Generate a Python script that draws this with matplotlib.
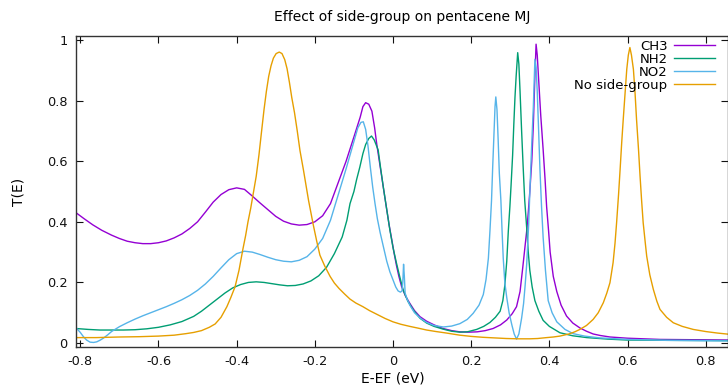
import matplotlib
matplotlib.use("Agg")
import matplotlib.pyplot as plt

plt.rcParams['font.family'] = ['DejaVu Sans']

# ---- data ----
ch3_x = [-0.811, -0.79, -0.768, -0.745, -0.72, -0.70, -0.68, -0.66, -0.64, -0.62, -0.60,
         -0.58, -0.56, -0.54, -0.52, -0.50, -0.48, -0.46, -0.44, -0.42, -0.40, -0.38,
         -0.36, -0.34, -0.32, -0.30, -0.28, -0.26, -0.24, -0.22, -0.20, -0.18, -0.16,
         -0.14, -0.12, -0.10, -0.084, -0.077, -0.07, -0.062, -0.054, -0.047, -0.042,
         -0.035, -0.029, -0.022, -0.016, -0.01, -0.003, 0.003, 0.009, 0.015, 0.022,
         0.032, 0.043, 0.055, 0.069, 0.086, 0.105, 0.128, 0.15, 0.171, 0.195, 0.215,
         0.236, 0.256, 0.275, 0.291, 0.305, 0.316, 0.325, 0.332, 0.337, 0.342, 0.346,
         0.350, 0.355, 0.359, 0.363, 0.366, 0.369, 0.373, 0.378, 0.384, 0.389, 0.393,
         0.398, 0.402, 0.41, 0.419, 0.43, 0.444, 0.46, 0.478, 0.495, 0.512, 0.53, 0.555,
         0.6, 0.683, 0.77, 0.86]
ch3_y = [0.43, 0.41, 0.39, 0.372, 0.356, 0.345, 0.336, 0.331, 0.328, 0.328, 0.331,
         0.337, 0.347, 0.36, 0.378, 0.40, 0.432, 0.465, 0.49, 0.506, 0.512, 0.507,
         0.485, 0.462, 0.44, 0.418, 0.402, 0.393, 0.389, 0.391, 0.40, 0.42, 0.46,
         0.53, 0.60, 0.68, 0.745, 0.78, 0.793, 0.788, 0.765, 0.71, 0.66,
         0.60, 0.55, 0.49, 0.44, 0.39, 0.34, 0.295, 0.255, 0.22, 0.186,
         0.155, 0.131, 0.107, 0.087, 0.072, 0.06, 0.048, 0.041, 0.037, 0.036, 0.037,
         0.041, 0.048, 0.06, 0.076, 0.097, 0.12, 0.17, 0.25, 0.31, 0.37, 0.43,
         0.50, 0.60, 0.72, 0.88, 0.986, 0.95, 0.86, 0.75, 0.64, 0.54, 0.45,
         0.37, 0.30, 0.22, 0.17, 0.125, 0.089, 0.066, 0.05, 0.039, 0.03, 0.025, 0.02,
         0.016, 0.012, 0.011, 0.01]

nh2_x = [-0.811, -0.78, -0.75, -0.72, -0.69, -0.66, -0.63, -0.60, -0.57, -0.54, -0.51,
         -0.49, -0.47, -0.45, -0.43, -0.41, -0.39, -0.37, -0.35, -0.33, -0.31, -0.29,
         -0.27, -0.25, -0.23, -0.21, -0.19, -0.17, -0.15, -0.13, -0.118, -0.11, -0.10,
         -0.093, -0.085, -0.077, -0.07, -0.062, -0.055, -0.048, -0.038, -0.032, -0.025,
         -0.016, -0.008, 0.0, 0.009, 0.018, 0.026, 0.038, 0.052, 0.069, 0.086, 0.105,
         0.128, 0.15, 0.171, 0.19, 0.214, 0.232, 0.248, 0.262, 0.274, 0.281, 0.286,
         0.291, 0.295, 0.299, 0.302, 0.306, 0.309, 0.312, 0.315, 0.319, 0.322, 0.325,
         0.329, 0.333, 0.337, 0.342, 0.346, 0.350, 0.356, 0.363, 0.373, 0.384, 0.40,
         0.427, 0.46, 0.496, 0.55, 0.598, 0.7, 0.86]
nh2_y = [0.048, 0.045, 0.043, 0.043, 0.043, 0.044, 0.047, 0.052, 0.06, 0.071, 0.088,
         0.105, 0.125, 0.145, 0.165, 0.182, 0.193, 0.2, 0.202, 0.2, 0.196, 0.192,
         0.189, 0.19, 0.195, 0.205, 0.222, 0.25, 0.295, 0.35, 0.405, 0.46, 0.5,
         0.54, 0.58, 0.625, 0.655, 0.675, 0.683, 0.67, 0.637, 0.58, 0.516,
         0.44, 0.373, 0.315, 0.263, 0.215, 0.175, 0.138, 0.109, 0.082, 0.066, 0.055,
         0.046, 0.039, 0.036, 0.037, 0.045, 0.055, 0.068, 0.085, 0.105, 0.14, 0.19,
         0.27, 0.37, 0.45, 0.52, 0.62, 0.72, 0.81, 0.88, 0.958, 0.92, 0.83,
         0.70, 0.58, 0.47, 0.38, 0.30, 0.24, 0.185, 0.14, 0.105, 0.075, 0.055,
         0.034, 0.024, 0.018, 0.013, 0.01, 0.009, 0.008]

no2_x = [-0.809, -0.80, -0.792, -0.784, -0.775, -0.766, -0.758, -0.75, -0.741, -0.73,
         -0.72, -0.70, -0.68, -0.66, -0.64, -0.62, -0.60, -0.58, -0.56, -0.54, -0.52,
         -0.50, -0.48, -0.46, -0.44, -0.42, -0.40, -0.38, -0.36, -0.34, -0.32, -0.30,
         -0.28, -0.26, -0.24, -0.22, -0.20, -0.18, -0.16, -0.14, -0.12, -0.10, -0.09,
         -0.082, -0.076, -0.07, -0.064, -0.058, -0.052, -0.046, -0.04, -0.033, -0.025,
         -0.016, -0.008, 0.001, 0.007, 0.013, 0.019, 0.023, 0.025, 0.027, 0.029, 0.031,
         0.036, 0.043, 0.055, 0.069, 0.086, 0.105, 0.129, 0.15, 0.171, 0.19, 0.205,
         0.22, 0.231, 0.238, 0.244, 0.248, 0.252, 0.255, 0.258, 0.261, 0.263, 0.266,
         0.269, 0.272, 0.276, 0.279, 0.282, 0.286, 0.291, 0.297, 0.304, 0.31, 0.316,
         0.322, 0.329, 0.334, 0.338, 0.342, 0.347, 0.351, 0.355, 0.359, 0.363, 0.366,
         0.369, 0.372, 0.376, 0.38, 0.384, 0.39, 0.397, 0.407, 0.419, 0.44, 0.461,
         0.49, 0.529, 0.6, 0.7, 0.86]
no2_y = [0.048, 0.035, 0.021, 0.01, 0.003, 0.002, 0.004, 0.009, 0.016, 0.027,
         0.038, 0.054, 0.067, 0.079, 0.09, 0.1, 0.11, 0.12, 0.131, 0.143, 0.157,
         0.174, 0.195, 0.22, 0.248, 0.275, 0.295, 0.303, 0.3, 0.292, 0.283, 0.275,
         0.27, 0.268, 0.273, 0.285, 0.31, 0.345, 0.405, 0.49, 0.575, 0.665, 0.71,
         0.728, 0.73, 0.705, 0.65, 0.58, 0.515, 0.46, 0.41, 0.365, 0.32,
         0.27, 0.235, 0.205, 0.185, 0.172, 0.168, 0.172, 0.2, 0.26, 0.22, 0.165,
         0.145, 0.125, 0.1, 0.083, 0.068, 0.058, 0.053, 0.056, 0.064, 0.078, 0.098,
         0.125, 0.16, 0.21, 0.28, 0.37, 0.47, 0.58, 0.68, 0.78, 0.812, 0.77,
         0.67, 0.56, 0.47, 0.37, 0.28, 0.2, 0.15, 0.1, 0.06, 0.03, 0.013,
         0.03, 0.082, 0.13, 0.19, 0.26, 0.39, 0.53, 0.66, 0.78, 0.936, 0.91,
         0.83, 0.72, 0.57, 0.45, 0.35, 0.24, 0.14, 0.1, 0.07, 0.045, 0.031,
         0.023, 0.017, 0.012, 0.009, 0.007]

none_x = [-0.811, -0.76, -0.70, -0.65, -0.60, -0.56, -0.53, -0.51, -0.49, -0.47, -0.455,
          -0.44, -0.425, -0.415, -0.404, -0.394, -0.384, -0.377, -0.371, -0.364, -0.358,
          -0.350, -0.343, -0.337, -0.330, -0.324, -0.318, -0.312, -0.306, -0.299, -0.291,
          -0.284, -0.277, -0.271, -0.265, -0.259, -0.252, -0.245, -0.238, -0.229, -0.216,
          -0.204, -0.195, -0.187, -0.175, -0.161, -0.15, -0.138, -0.124, -0.11, -0.095,
          -0.077, -0.06, -0.04, -0.02, 0.0, 0.02, 0.043, 0.065, 0.086, 0.11, 0.137, 0.171,
          0.2, 0.23, 0.26, 0.29, 0.32, 0.35, 0.37, 0.393, 0.41, 0.427, 0.45, 0.465, 0.478,
          0.495, 0.512, 0.525, 0.538, 0.547, 0.555, 0.56, 0.563, 0.568, 0.572, 0.577,
          0.581, 0.585, 0.589, 0.594, 0.598, 0.602, 0.606, 0.610, 0.615, 0.619, 0.623,
          0.628, 0.632, 0.636, 0.640, 0.645, 0.649, 0.657, 0.666, 0.675, 0.683, 0.70,
          0.717, 0.74, 0.768, 0.80, 0.83, 0.86]
none_y = [0.018, 0.018, 0.02, 0.021, 0.023, 0.026, 0.031, 0.035, 0.041, 0.052, 0.063,
          0.085, 0.12, 0.15, 0.186, 0.24, 0.31, 0.355, 0.40, 0.445, 0.49,
          0.55, 0.62, 0.69, 0.77, 0.83, 0.88, 0.915, 0.94, 0.955, 0.96,
          0.955, 0.935, 0.905, 0.86, 0.81, 0.76, 0.70, 0.635, 0.57, 0.47,
          0.39, 0.335, 0.29, 0.255, 0.22, 0.198, 0.18, 0.162, 0.145, 0.132,
          0.12, 0.107, 0.094, 0.081, 0.07, 0.062, 0.055, 0.049, 0.043, 0.038, 0.033, 0.026,
          0.022, 0.019, 0.017, 0.015, 0.014, 0.014, 0.015, 0.018, 0.02, 0.023, 0.03, 0.037,
          0.045, 0.058, 0.078, 0.1, 0.133, 0.165, 0.199, 0.24, 0.265, 0.33, 0.397, 0.49,
          0.573, 0.66, 0.738, 0.83, 0.903, 0.95, 0.975, 0.95, 0.903, 0.83, 0.738,
          0.64, 0.551, 0.47, 0.397, 0.335, 0.287, 0.225, 0.177, 0.138, 0.111, 0.085,
          0.067, 0.055, 0.045, 0.038, 0.033, 0.029]

series = [("CH3", ch3_x, ch3_y, "#9400d3"),
          ("NH2", nh2_x, nh2_y, "#009e73"),
          ("NO2", no2_x, no2_y, "#56b4e9"),
          ("No side-group", none_x, none_y, "#e69f00")]

xticks = [-0.8, -0.6, -0.4, -0.2, 0, 0.2, 0.4, 0.6, 0.8]
xtick_labels = ["-0.8", "-0.6", "-0.4", "-0.2", "0", "0.2", "0.4", "0.6", "0.8"]
yticks = [0, 0.2, 0.4, 0.6, 0.8, 1]
ytick_labels = ["0", "0.2", "0.4", "0.6", "0.8", "1"]

W, H = 728, 385
fig = plt.figure(figsize=(W / 100, H / 100), dpi=100)
ax = fig.add_axes([76 / W, (H - 347) / H, (728 - 76) / W, (347 - 36) / H])

for name, xs, ys, col in series:
    ax.plot(xs, ys, color=col, lw=1.0, label=name)

ax.set_xlim(-0.811, 0.857)
ax.set_ylim(-0.013, 1.013)
ax.set_xticks(xticks)
ax.set_xticklabels(xtick_labels)
ax.set_yticks(yticks)
ax.set_yticklabels(ytick_labels)
ax.tick_params(direction="in", length=5, width=0.8, top=True, right=True,
               labelsize=9.3, pad=6, colors="#111111")
for s in ax.spines.values():
    s.set_linewidth(1.0)
    s.set_color("#333333")

ax.set_title("Effect of side-group on pentacene MJ", fontsize=10,
             y=1 + 11 / 311, va="center")
ax.set_xlabel("E-EF (eV)", fontsize=10)
ax.xaxis.set_label_coords(393 / W, (H - 378) / H, transform=fig.transFigure)
ax.xaxis.label.set_va("center")
ax.set_ylabel("T(E)", fontsize=10)
ax.yaxis.set_label_coords(18 / W, (H - 192) / H, transform=fig.transFigure)
ax.yaxis.label.set_va("center")
ax.yaxis.label.set_ha("center")

leg = ax.legend(loc="upper right", bbox_to_anchor=(715 / W, (H - 40) / H),
                bbox_transform=fig.transFigure, frameon=False, markerfirst=False,
                fontsize=9.5, handlelength=3.1, handletextpad=0.5, labelspacing=0.0,
                borderpad=0, borderaxespad=0)

fig.savefig("out.png", dpi=100)
